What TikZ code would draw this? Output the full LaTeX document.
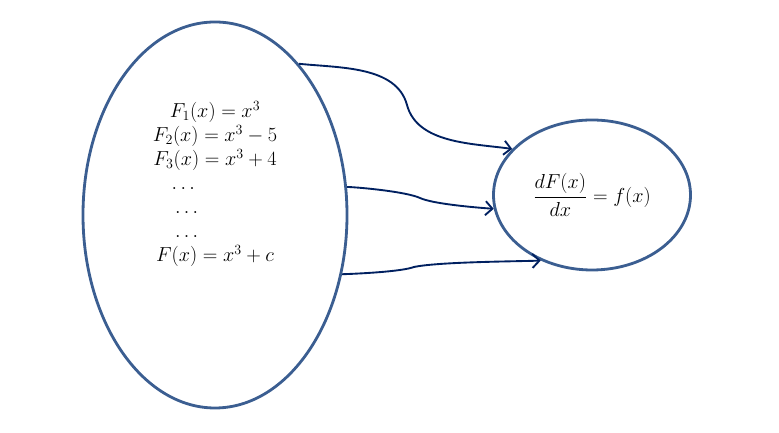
\documentclass[tikz,border=0pt]{standalone}
\usepackage{amsmath}
\usetikzlibrary{shapes.geometric,arrows.meta}

\definecolor{ringblue}{RGB}{59,94,145}
\definecolor{linknavy}{RGB}{0,32,96}

\tikzset{
  ring/.style={ellipse,draw=ringblue,line width=2.4pt,inner sep=0pt},
  link/.style={draw=linknavy,line width=1.6pt,-{Straight Barb[length=6pt,width=12pt]}},
  eqfont/.style={font=\fontsize{17.28}{20.5}\selectfont}
}

\begin{document}
\begin{tikzpicture}[x=0.03cm,y=0.03cm]
\useasboundingbox (0,0) rectangle (779,433);

% the family of antiderivatives
\node[ring,minimum width=7.92cm,minimum height=11.58cm] (family) at (215,218) {};
\node[eqfont,align=center] (eqs) at (215,249) {$F_1(x)=x^3$\\
  $F_2(x)=x^3-5$\\
  $F_3(x)=x^3+4$\\
  \hspace*{-1.9cm}$\ldots$\\
  \hspace*{-1.7cm}$\ldots$\\
  \hspace*{-1.7cm}$\ldots$\\
  $F(x)=x^3+c$};

% the derivative
\node[ring,eqfont,minimum width=5.91cm,minimum height=4.5cm] (deriv) at (592,238)
  {$\dfrac{dF(x)}{dx}=f(x)$};

% bends of the connectors
\coordinate (bend1) at (407,328);
\coordinate (bend2) at (420,235);
\coordinate (bend3) at (414,166);

% connectors
\draw[link] (family.61) to[out=-6,in=105,looseness=0.9] (bend1)
  to[out=-75,in=172,looseness=0.9] (deriv.150);
\draw[link] (family.12) to[out=-2,in=155,looseness=0.5] (bend2)
  to[out=-25,in=176,looseness=0.5] (deriv.188);
\draw[link] (family.-25) to[out=2,in=-160,looseness=0.5] (bend3)
  to[out=12,in=182,looseness=0.5] (deriv.232);

\end{tikzpicture}
\end{document}
